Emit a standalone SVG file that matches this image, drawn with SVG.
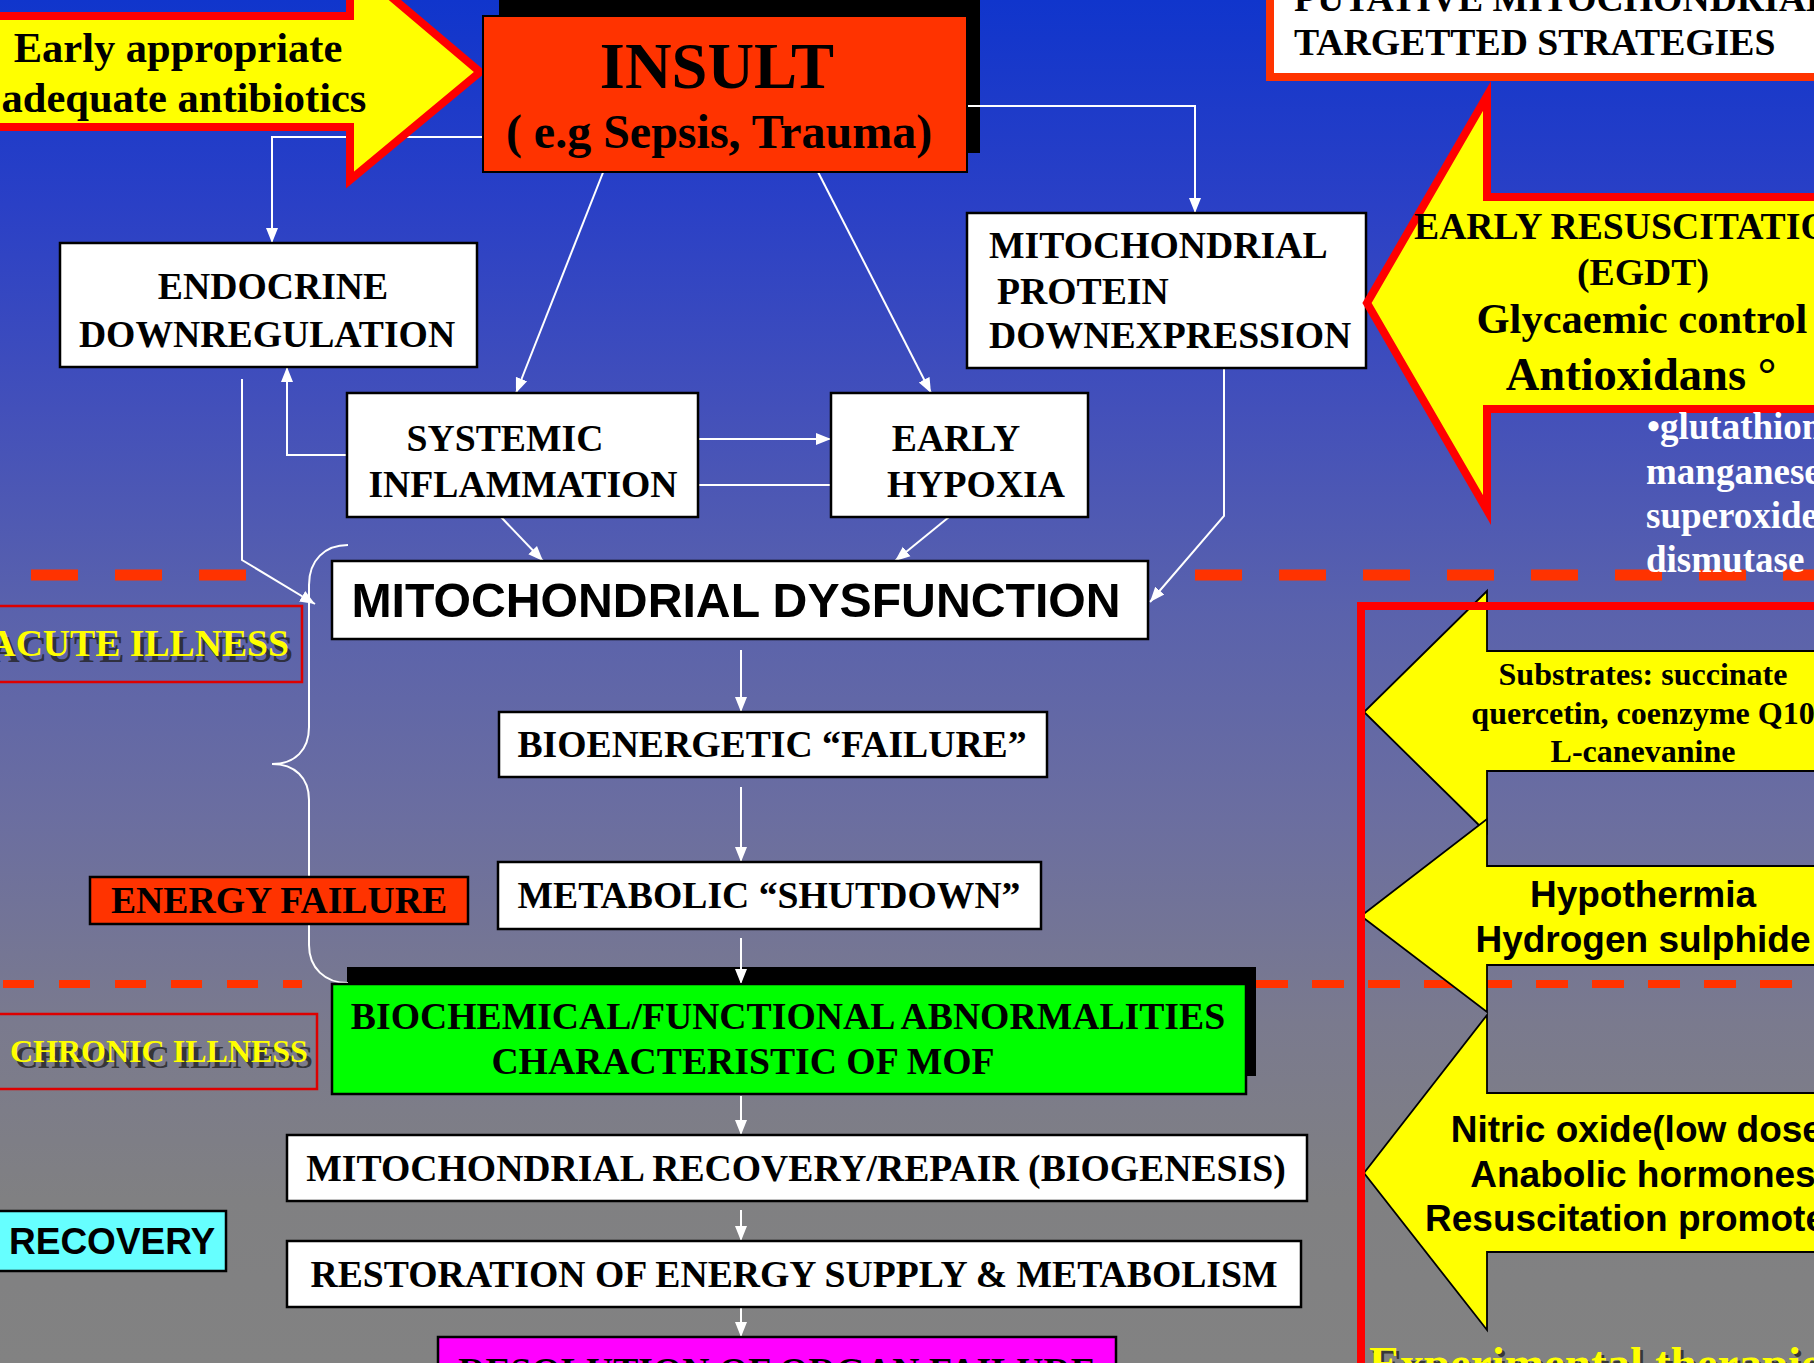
<svg xmlns="http://www.w3.org/2000/svg" width="1814" height="1363" viewBox="0 0 1814 1363">
<defs>
<linearGradient id="bg" x1="0" y1="0" x2="0" y2="1363" gradientUnits="userSpaceOnUse">
<stop offset="0" stop-color="#1035CC"/>
<stop offset="0.15" stop-color="#2A40C6"/>
<stop offset="0.3" stop-color="#4350BA"/>
<stop offset="0.45" stop-color="#5A62AC"/>
<stop offset="0.6" stop-color="#6B6EA0"/>
<stop offset="0.75" stop-color="#7A7A8E"/>
<stop offset="0.88" stop-color="#808082"/>
<stop offset="1" stop-color="#828282"/>
</linearGradient>
<marker id="ah" markerUnits="userSpaceOnUse" markerWidth="16" markerHeight="14" refX="15" refY="7" orient="auto" viewBox="0 0 16 14">
<path d="M0,1 L15,7 L0,13 Z" fill="#fff"/>
</marker>
<style>
.box{fill:#fff;stroke:#000;stroke-width:2.5}
.t{font-family:"Liberation Serif","Times New Roman",serif;font-weight:bold;font-size:37.7px;fill:#000}
.s{font-family:"Liberation Sans",Arial,sans-serif;font-weight:bold;font-size:37px;fill:#000}
.c{text-anchor:middle}
.ln{fill:none;stroke:#fff;stroke-width:2}
.dash{stroke:#FF3300;fill:none}
.ill{fill:#FFFF00}
.sh{fill:#222;fill-opacity:0.8}
.ya{fill:#FFFF00;stroke:#000;stroke-width:1.8}
.lbl{fill:none;stroke:#DD0000;stroke-width:2.5}
.wt{font-family:"Liberation Serif","Times New Roman",serif;font-weight:bold;font-size:37px;fill:#fff}
</style>
</defs>
<rect x="0" y="0" width="1814" height="1363" fill="url(#bg)"/>

<g id="dashes" class="dash">
<line x1="31" y1="575" x2="247" y2="575" stroke-width="11" stroke-dasharray="47 37"/>
<line x1="1195" y1="575" x2="1814" y2="575" stroke-width="11" stroke-dasharray="47 37"/>
<line x1="3" y1="984" x2="302" y2="984" stroke-width="8" stroke-dasharray="31 25"/>
<line x1="1256" y1="984" x2="1792" y2="984" stroke-width="8" stroke-dasharray="32 24"/>
</g>

<g id="shadows">
<rect x="499" y="-5" width="481" height="158" fill="#000"/>
<rect x="347" y="967" width="909" height="109" fill="#000"/>
</g>

<g id="connectors" class="ln">
<polyline points="483,137 272,137 272,243" marker-end="url(#ah)"/>
<polyline points="967,106 1195,106 1195,213" marker-end="url(#ah)"/>
<line x1="604" y1="170" x2="516" y2="393" marker-end="url(#ah)"/>
<line x1="817" y1="170" x2="931" y2="393" marker-end="url(#ah)"/>
<line x1="698" y1="439" x2="831" y2="439" marker-end="url(#ah)"/>
<line x1="698" y1="485" x2="831" y2="485"/>
<polyline points="347,455 287,455 287,367" marker-end="url(#ah)"/>
<polyline points="242,379 242,560 315,604" marker-end="url(#ah)"/>
<line x1="501" y1="517" x2="543" y2="561" marker-end="url(#ah)"/>
<line x1="949" y1="517" x2="895" y2="561" marker-end="url(#ah)"/>
<polyline points="1224,368 1224,516 1150,602" marker-end="url(#ah)"/>
<line x1="741" y1="650" x2="741" y2="712" marker-end="url(#ah)"/>
<line x1="741" y1="787" x2="741" y2="862" marker-end="url(#ah)"/>
<line x1="741" y1="938" x2="741" y2="984" marker-end="url(#ah)"/>
<line x1="741" y1="1096" x2="741" y2="1135" marker-end="url(#ah)"/>
<line x1="741" y1="1210" x2="741" y2="1241" marker-end="url(#ah)"/>
<line x1="741" y1="1307" x2="741" y2="1337" marker-end="url(#ah)"/>
<path d="M348,545 C325,545 309,560 309,585 L309,727 C309,750 295,764 272,764 C295,764 309,778 309,800 L309,945 C309,968 325,983 348,983"/>
</g>

<g id="antibiotics">
<polygon points="-20,16 350,16 350,-38 480,72 350,180 350,127 -20,127" fill="#FFFF00" stroke="#FF0000" stroke-width="8"/>
<text class="t c" x="178" y="62" style="font-size:42.5px">Early appropriate</text>
<text class="t c" x="184" y="112" style="font-size:42.5px">adequate antibiotics</text>
</g>

<g id="insult">
<rect x="483" y="16" width="484" height="156" fill="#FF3300" stroke="#000" stroke-width="2"/>
<text class="t c" x="717" y="88" style="font-size:64.5px">INSULT</text>
<text class="t c" x="719" y="148" style="font-size:48px">( e.g Sepsis, Trauma)</text>
</g>

<g id="endocrine">
<rect class="box" x="60" y="243" width="417" height="124"/>
<text class="t c" x="273" y="299">ENDOCRINE</text>
<text class="t c" x="267" y="347">DOWNREGULATION</text>
</g>

<g id="systemic">
<rect class="box" x="347" y="393" width="351" height="124"/>
<text class="t c" x="505" y="451">SYSTEMIC</text>
<text class="t c" x="523" y="497">INFLAMMATION</text>
</g>

<g id="hypoxia">
<rect class="box" x="831" y="393" width="257" height="124"/>
<text class="t c" x="956" y="451">EARLY</text>
<text class="t c" x="976" y="497">HYPOXIA</text>
</g>

<g id="mitoprotein">
<rect class="box" x="967" y="213" width="399" height="155"/>
<text class="t" x="989" y="258">MITOCHONDRIAL</text>
<text class="t" x="997" y="304">PROTEIN</text>
<text class="t" x="989" y="348">DOWNEXPRESSION</text>
</g>

<g id="dysfunction">
<rect class="box" x="332" y="561" width="816" height="78"/>
<text class="s c" x="736" y="617" style="font-size:48.2px">MITOCHONDRIAL DYSFUNCTION</text>
</g>

<g id="bioenergetic">
<rect class="box" x="499" y="712" width="548" height="65"/>
<text class="t c" x="772" y="757">BIOENERGETIC “FAILURE”</text>
</g>

<g id="metabolic">
<rect class="box" x="498" y="862" width="543" height="67"/>
<text class="t c" x="769" y="908">METABOLIC “SHUTDOWN”</text>
</g>

<g id="energyfailure">
<rect x="90" y="877" width="378" height="47" fill="#FF3300" stroke="#000" stroke-width="2.5"/>
<text class="t c" x="279" y="913">ENERGY FAILURE</text>
</g>

<g id="biochemical">
<rect x="332" y="984" width="914" height="110" fill="#00FF00" stroke="#000" stroke-width="2.5"/>
<text class="t c" x="788" y="1029">BIOCHEMICAL/FUNCTIONAL ABNORMALITIES</text>
<text class="t c" x="743" y="1074">CHARACTERISTIC OF MOF</text>
</g>

<g id="mitorecovery">
<rect class="box" x="287" y="1135" width="1020" height="66"/>
<text class="t c" x="796" y="1181">MITOCHONDRIAL RECOVERY/REPAIR (BIOGENESIS)</text>
</g>

<g id="restoration">
<rect class="box" x="287" y="1241" width="1014" height="66"/>
<text class="t c" x="794" y="1287">RESTORATION OF ENERGY SUPPLY &amp; METABOLISM</text>
</g>

<g id="resolution">
<rect x="438" y="1337" width="678" height="60" fill="#FF00FF" stroke="#000" stroke-width="2.5"/>
<text class="t c" x="777" y="1384">RESOLUTION OF ORGAN FAILURE</text>
</g>

<g id="acute">
<rect class="lbl" x="-5" y="606" width="307" height="76"/>
<text class="t sh" x="293" y="662" text-anchor="end">ACUTE ILLNESS</text>
<text class="t ill" x="289" y="656" text-anchor="end">ACUTE ILLNESS</text>
</g>

<g id="chronic">
<rect class="lbl" x="-5" y="1014" width="322" height="75"/>
<text class="t sh" x="15" y="1068" style="font-size:32px">CHRONIC ILLNESS</text>
<text class="t ill" x="10" y="1062" style="font-size:32px">CHRONIC ILLNESS</text>
</g>

<g id="recovery">
<rect x="-3" y="1211" width="229" height="60" fill="#66FFFF" stroke="#000" stroke-width="2.5"/>
<text class="s" x="9" y="1254">RECOVERY</text>
</g>

<g id="putative">
<rect x="1270" y="-20" width="600" height="97" fill="#fff" stroke="#FF3300" stroke-width="8"/>
<text class="t" x="1294" y="11">PUTATIVE MITOCHONDRIAL</text>
<text class="t" x="1294" y="55">TARGETTED STRATEGIES</text>
</g>

<g id="resuscitation">
<polygon points="1830,197 1487,197 1487,96 1367,303 1487,510 1487,409 1830,409" fill="#FFFF00" stroke="#FF0000" stroke-width="8"/>
<text class="t" x="1414" y="239">EARLY RESUSCITATION</text>
<text class="t c" x="1643" y="285">(EGDT)</text>
<text class="t c" x="1642" y="333" style="font-size:42.5px">Glycaemic control</text>
<text class="t c" x="1641" y="390" style="font-size:46.5px">Antioxidans °</text>
</g>

<g id="antioxidants">
<text class="wt" x="1647" y="439">•glutathione</text>
<text class="wt" x="1646" y="484">manganese</text>
<text class="wt" x="1646" y="528">superoxide</text>
<text class="wt" x="1646" y="572">dismutase</text>
</g>

<g id="substrates">
<polygon class="ya" points="1830,651 1487,651 1487,591 1364,712 1487,833 1487,771 1830,771"/>
<text class="t c" x="1643" y="685" style="font-size:32px">Substrates: succinate</text>
<text class="t c" x="1643" y="724" style="font-size:32px">quercetin, coenzyme Q10</text>
<text class="t c" x="1643" y="762" style="font-size:32px">L-canevanine</text>
</g>

<g id="hypothermia">
<polygon class="ya" points="1830,866 1487,866 1487,819 1361,916 1487,1012 1487,965 1830,965"/>
<text class="s c" x="1643" y="907">Hypothermia</text>
<text class="s c" x="1643" y="952">Hydrogen sulphide</text>
</g>

<g id="nitricoxide">
<polygon class="ya" points="1830,1093 1487,1093 1487,1015 1364,1173 1487,1330 1487,1252 1830,1252"/>
<text class="s c" x="1643" y="1142">Nitric oxide(low dose)</text>
<text class="s c" x="1643" y="1187">Anabolic hormones</text>
<text class="s c" x="1643" y="1231">Resuscitation promoters</text>
</g>

<g id="experimental">
<rect x="1361" y="606" width="600" height="900" fill="none" stroke="#FF0000" stroke-width="8"/>
<text class="t sh" x="1372" y="1382" style="font-size:47px">Experimental therapies</text>
<text class="t ill" x="1369" y="1379" style="font-size:47px">Experimental therapies</text>
</g>
</svg>
